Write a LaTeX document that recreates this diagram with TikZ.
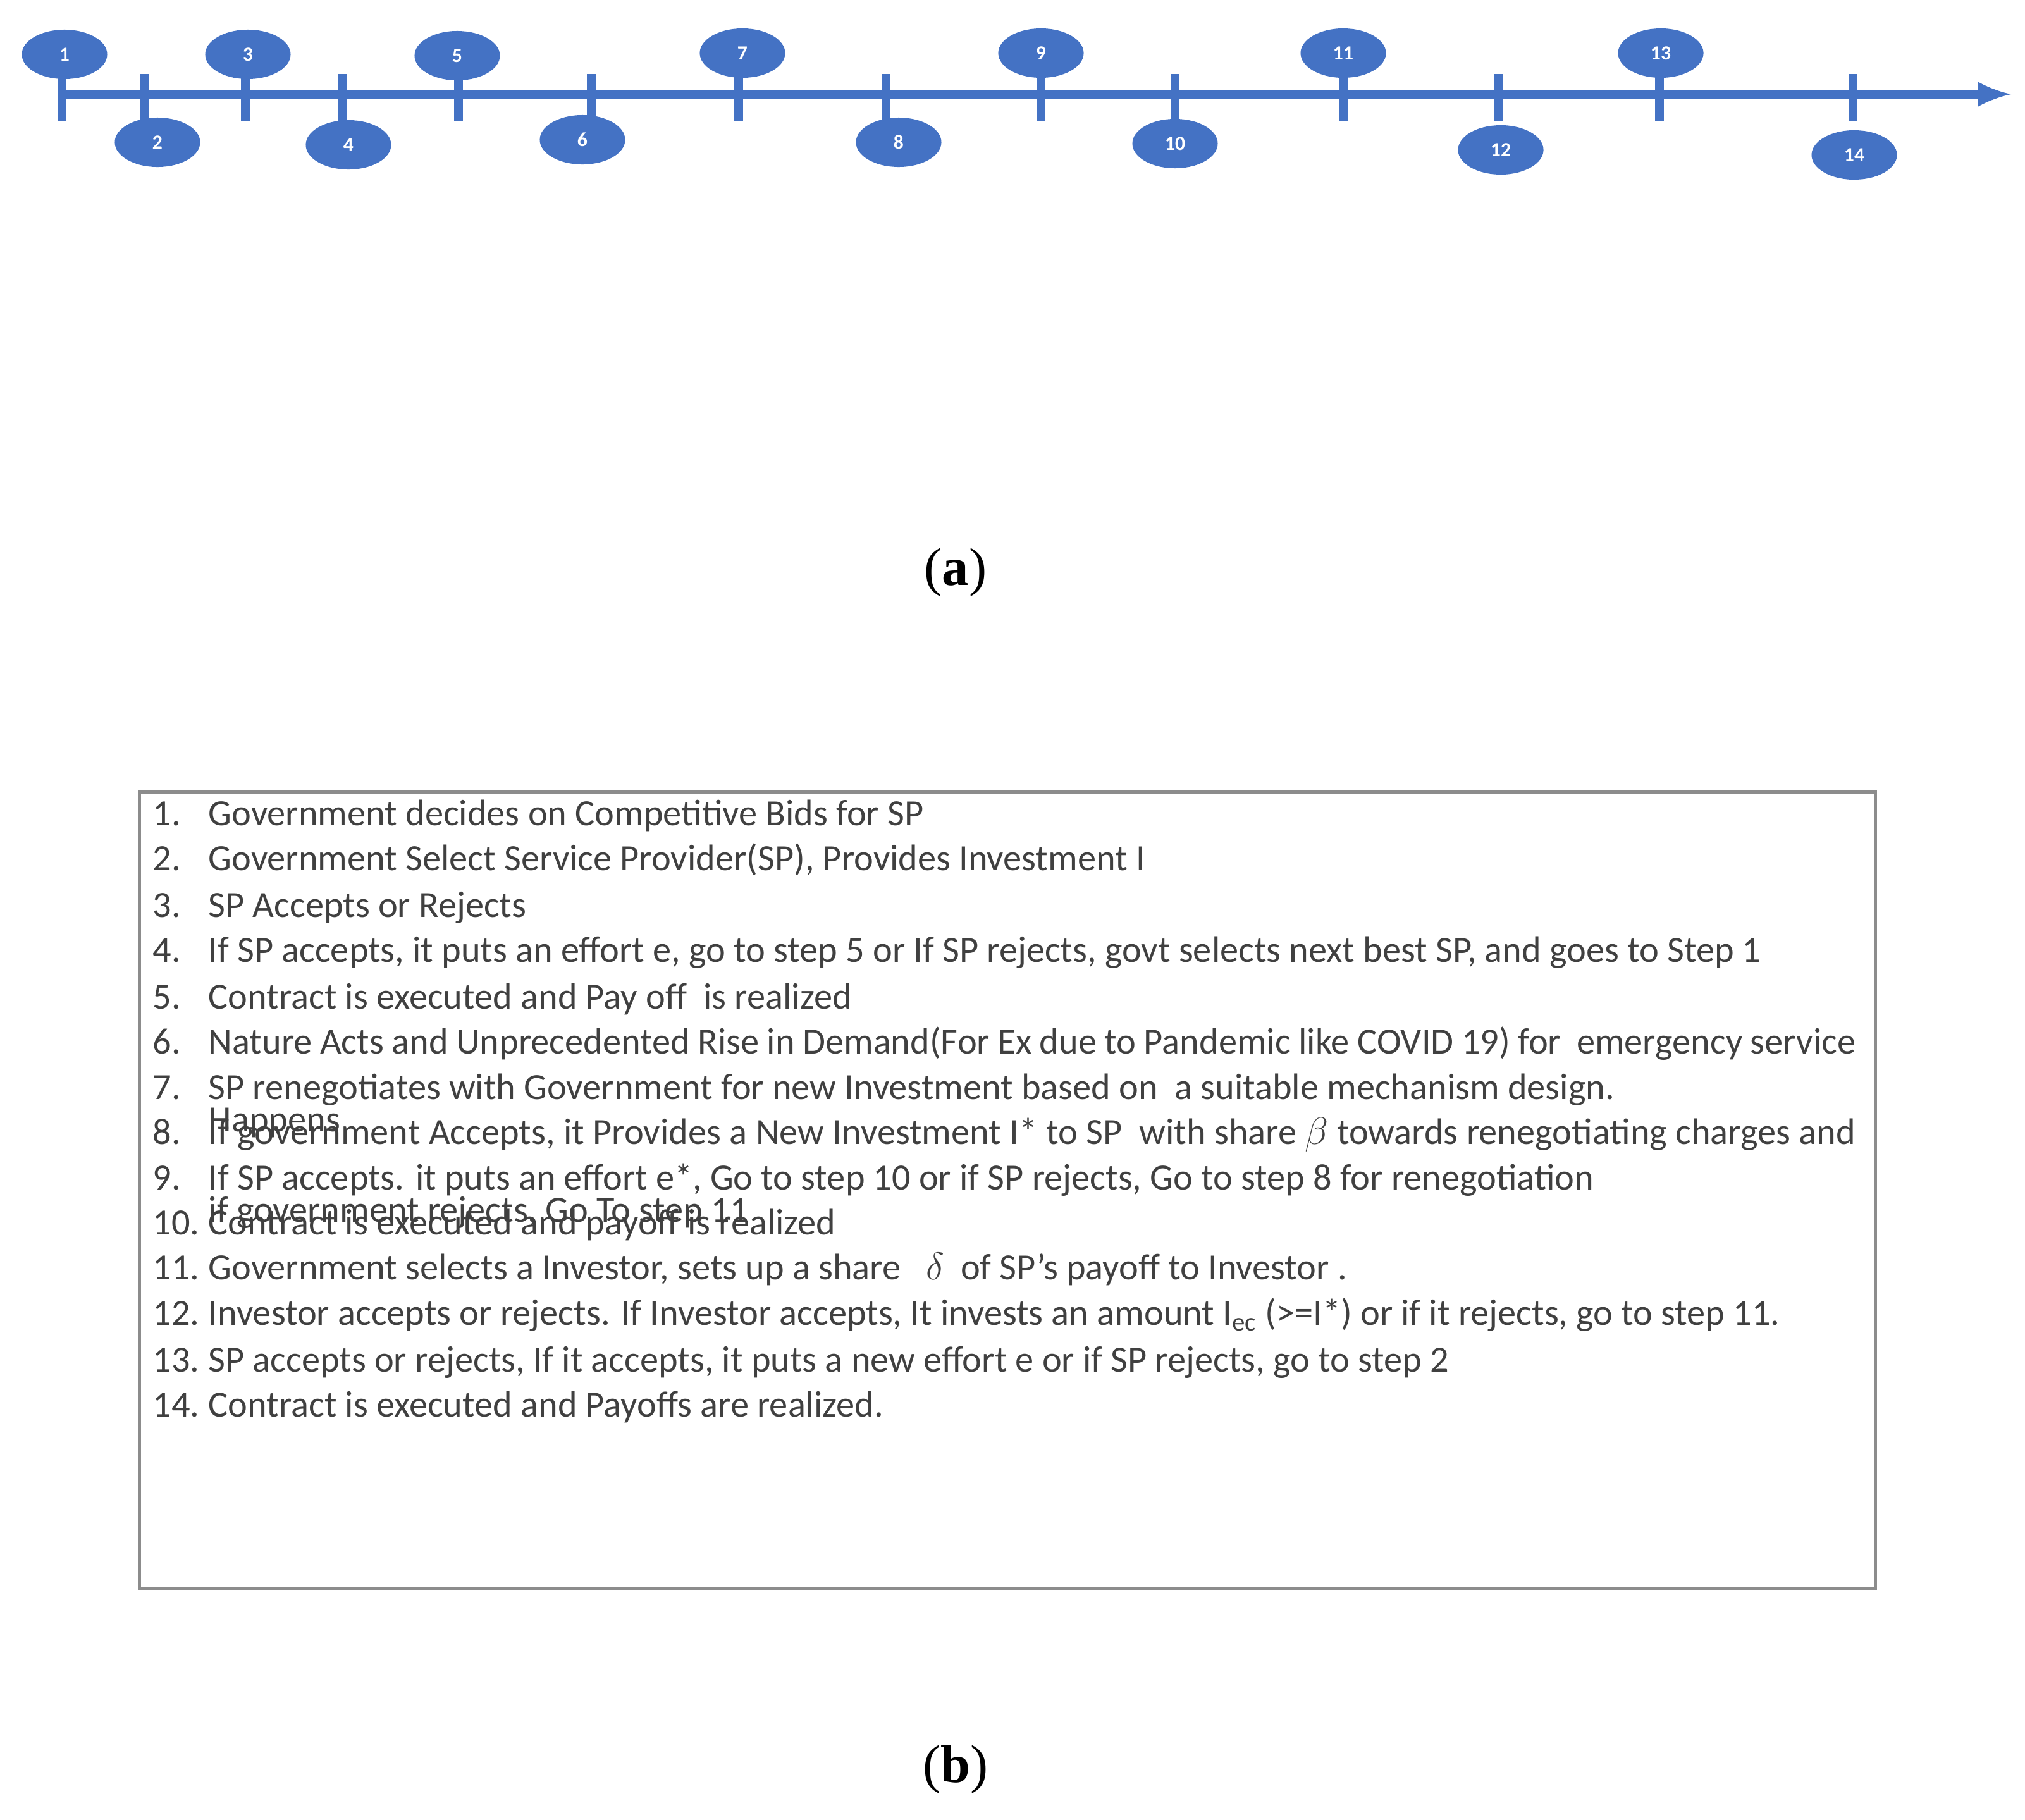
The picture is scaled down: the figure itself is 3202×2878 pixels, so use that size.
\documentclass[tikz,border=0pt]{standalone}
\usepackage{fontspec}
\setmainfont{Carlito}
\newfontfamily\serifl{Liberation Serif}
\usetikzlibrary{shapes.geometric}
\begin{document}
\begin{tikzpicture}[x=0.01cm,y=-0.01cm,
  tk/.style={line width=4pt, draw={rgb,255:red,68;green,114;blue,196}},
  el/.style={ellipse, fill={rgb,255:red,68;green,114;blue,196}, minimum width=1.35cm, minimum height=0.78cm, inner sep=0pt, text=white, font=\bfseries\small},
  item/.style={anchor=base west, inner sep=0pt, font=\fontsize{16.6}{35}\selectfont, text=black!75},
  captxt/.style={font=\serifl\fontsize{24}{28}\selectfont}]
\useasboundingbox (0,0) rectangle (3202,2878);
\coordinate (a0) at (92,149);
\coordinate (a1) at (3180,149);
\draw[tk,-latex] (a0) -- (a1);
\foreach \n/\tx/\ex/\ey in {1/98/102/86, 2/229/249/225, 3/388/392/86, 4/541/551/229, 5/725/723/88, 6/935/921/221, 7/1168/1174/84, 8/1401/1421/225, 9/1646/1646/84, 10/1858/1858/227, 11/2124/2124/84, 12/2369/2373/237, 13/2624/2626/84, 14/2930/2932/245}{
  \coordinate (t\n a) at (\tx,117);
  \coordinate (t\n b) at (\tx,192);
  \draw[tk] (t\n a) -- (t\n b);
  \node[el] (e\n) at (\ex,\ey) {\n};
}
\node[captxt] (capa) at (1511,905) {(\textbf{a})};
\node[draw=black!45, line width=1.5pt, minimum width=27.43cm, minimum height=12.58cm, anchor=north west, inner sep=0pt] (box) at (218,1250) {};
\foreach \n/\y/\t in {1/1305/Government decides on Competitive Bids for SP,
 2/1376/{Government Select Service Provider(SP), Provides Investment I},
 3/1450/SP Accepts or Rejects,
 4/1521/{If SP accepts, it puts an effort e, go to step 5 or If SP rejects, govt selects next best SP, and goes to Step 1},
 5/1595/Contract is executed and Pay off\ \ is realized,
 7/1738/{SP renegotiates with Government for new Investment based on\ \ a suitable mechanism design.},
 9/1881/{If SP accepts. it puts an effort e*, Go to step 10 or if SP rejects, Go to step 8 for renegotiation},
 10/1952/Contract is executed and payoff is realized,
 11/2023/{Government selects a Investor, sets up a share\ \ \ $\delta$\ \ of SP's payoff to Investor .},
 12/2095/{Investor accepts or rejects. If Investor accepts, It invests an amount I$_{\mathrm{ec}}$ (>=I*) or if it rejects, go to step 11.},
 13/2169/{SP accepts or rejects, If it accepts, it puts a new effort e or if SP rejects, go to step 2},
 14/2240/{Contract is executed and Payoffs are realized.}}{
  \node[item] (n\n) at (241,\y) {\n.};
  \node[item] (i\n) at (329,\y) {\t};
}
\node[item] (n6) at (241,1666) {6.};
\node[item, text width=26.03cm, align=justify] (i6) at (329,1666) {Nature Acts and Unprecedented Rise in Demand(For Ex due to Pandemic like COVID 19) for\ \ emergency service Happens};
\node[item] (n8) at (241,1809) {8.};
\node[item, text width=26.03cm, align=justify] (i8) at (329,1809) {If government Accepts, it Provides a New Investment I* to SP\ \ with share $\beta$ towards renegotiating charges and if government rejects, Go To step 11};
\node[captxt] (capb) at (1511,2798) {(\textbf{b})};
\end{tikzpicture}
\end{document}
